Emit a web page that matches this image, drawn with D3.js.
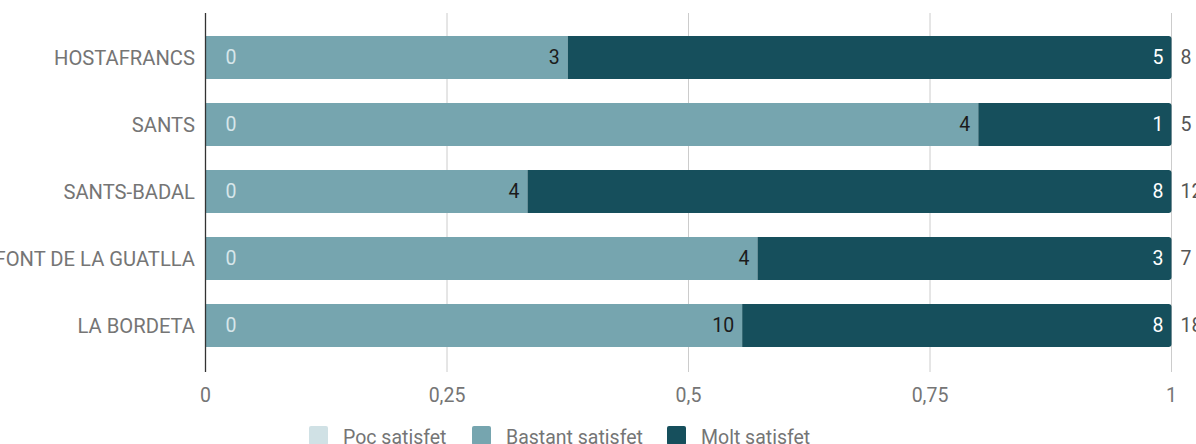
<!DOCTYPE html>
<html><head><meta charset="utf-8">
<script src="https://cdn.jsdelivr.net/npm/d3@7"></script>
<style>body{margin:0;background:#fff;overflow:hidden}svg{display:block;font-family:Roboto,sans-serif}</style>
</head><body>
<svg id="c" width="1196" height="444"></svg>
<script>
const categories = ["HOSTAFRANCS","SANTS","SANTS-BADAL","FONT DE LA GUATLLA","LA BORDETA"];
const seriesNames = ["Poc satisfet","Bastant satisfet","Molt satisfet"];
const pocValues = [0,0,0,0,0];
const bastantValues = [3,4,4,4,10];
const moltValues = [5,1,8,3,8];
const xTicks = [0,0.25,0.5,0.75,1];
const colors = ["#d0e1e5","#76a5af","#164f5c"];
const labelColors = ["#d6e6ea","#1b1b1b","#ffffff"];

const svg = d3.select("#c");
const x = d3.scaleLinear().domain([0,1]).range([205.5,1171.5]);
const y = d3.scaleBand().domain(categories).range([12,371]).paddingInner(0.36).paddingOuter(0.36);

// gridlines
svg.append("g").selectAll("line").data(xTicks.slice(1)).join("line")
  .attr("x1",d=>x(d)).attr("x2",d=>x(d)).attr("y1",13).attr("y2",372)
  .attr("stroke","#cccccc").attr("stroke-width",1);

const rows = categories.map((c,i)=>{
  const vals=[pocValues[i],bastantValues[i],moltValues[i]];
  const total=d3.sum(vals);
  let cum=0;
  const segs=vals.map((v,k)=>{const s={k,v,x0:cum/total,x1:(cum+v)/total};cum+=v;return s;});
  return {c,total,segs};
});

function segPath(x0,x1,y0,h,roundRight){
  const r=Math.min(3,(x1-x0));
  if(!roundRight||r<=0) return `M${x0},${y0}H${x1}V${y0+h}H${x0}Z`;
  return `M${x0},${y0}H${x1-r}Q${x1},${y0} ${x1},${y0+r}V${y0+h-r}Q${x1},${y0+h} ${x1-r},${y0+h}H${x0}Z`;
}

const fs = 19.5;
const g = svg.append("g");
rows.forEach(row=>{
  const y0=y(row.c), h=y.bandwidth();
  const lastIdx = d3.max(row.segs.filter(s=>s.v>0),s=>s.k);
  row.segs.forEach(s=>{
    if(s.v>0){
      g.append("path").attr("d",segPath(x(s.x0),x(s.x1),y0,h,s.k===lastIdx)).attr("fill",colors[s.k]);
    }
  });
  row.segs.forEach(s=>{
    const t=g.append("text").attr("y",y0+h/2).attr("dy","0.35em").attr("font-size",fs)
      .attr("fill",labelColors[s.k]).text(s.v);
    if(s.v===0){t.attr("x",x(s.x0)+20).attr("text-anchor","start");}
    else {t.attr("x",x(s.x1)-8).attr("text-anchor","end");}
  });
  g.append("text").attr("x",x(1)+9).attr("y",y0+h/2).attr("dy","0.35em").attr("font-size",fs)
    .attr("fill","#555").text(row.total);
});

// y axis line + labels
svg.append("line").attr("x1",205.5).attr("x2",205.5).attr("y1",13).attr("y2",372).attr("stroke","#333").attr("stroke-width",1.3);
svg.append("g").selectAll("text").data(categories).join("text")
  .attr("x",195).attr("y",d=>y(d)+y.bandwidth()/2).attr("dy","0.35em").attr("text-anchor","end")
  .attr("font-size",20.2).attr("fill","#757575").text(d=>d);

// x tick labels
const fmt = d=>String(d).replace(".",",");
svg.append("g").selectAll("text").data(xTicks).join("text")
  .attr("x",d=>x(d)).attr("y",395).attr("dy","0.35em").attr("text-anchor","middle")
  .attr("font-size",fs).attr("fill","#757575").text(fmt);

// legend
const legendX=[309,472,667];
const lg=svg.append("g");
seriesNames.forEach((n,i)=>{
  lg.append("rect").attr("x",legendX[i]).attr("y",426).attr("width",19).attr("height",19).attr("rx",2).attr("fill",colors[i]);
  lg.append("text").attr("x",legendX[i]+34).attr("y",437).attr("dy","0.35em").attr("font-size",fs).attr("fill","#757575").text(n);
});
</script>
</body></html>
